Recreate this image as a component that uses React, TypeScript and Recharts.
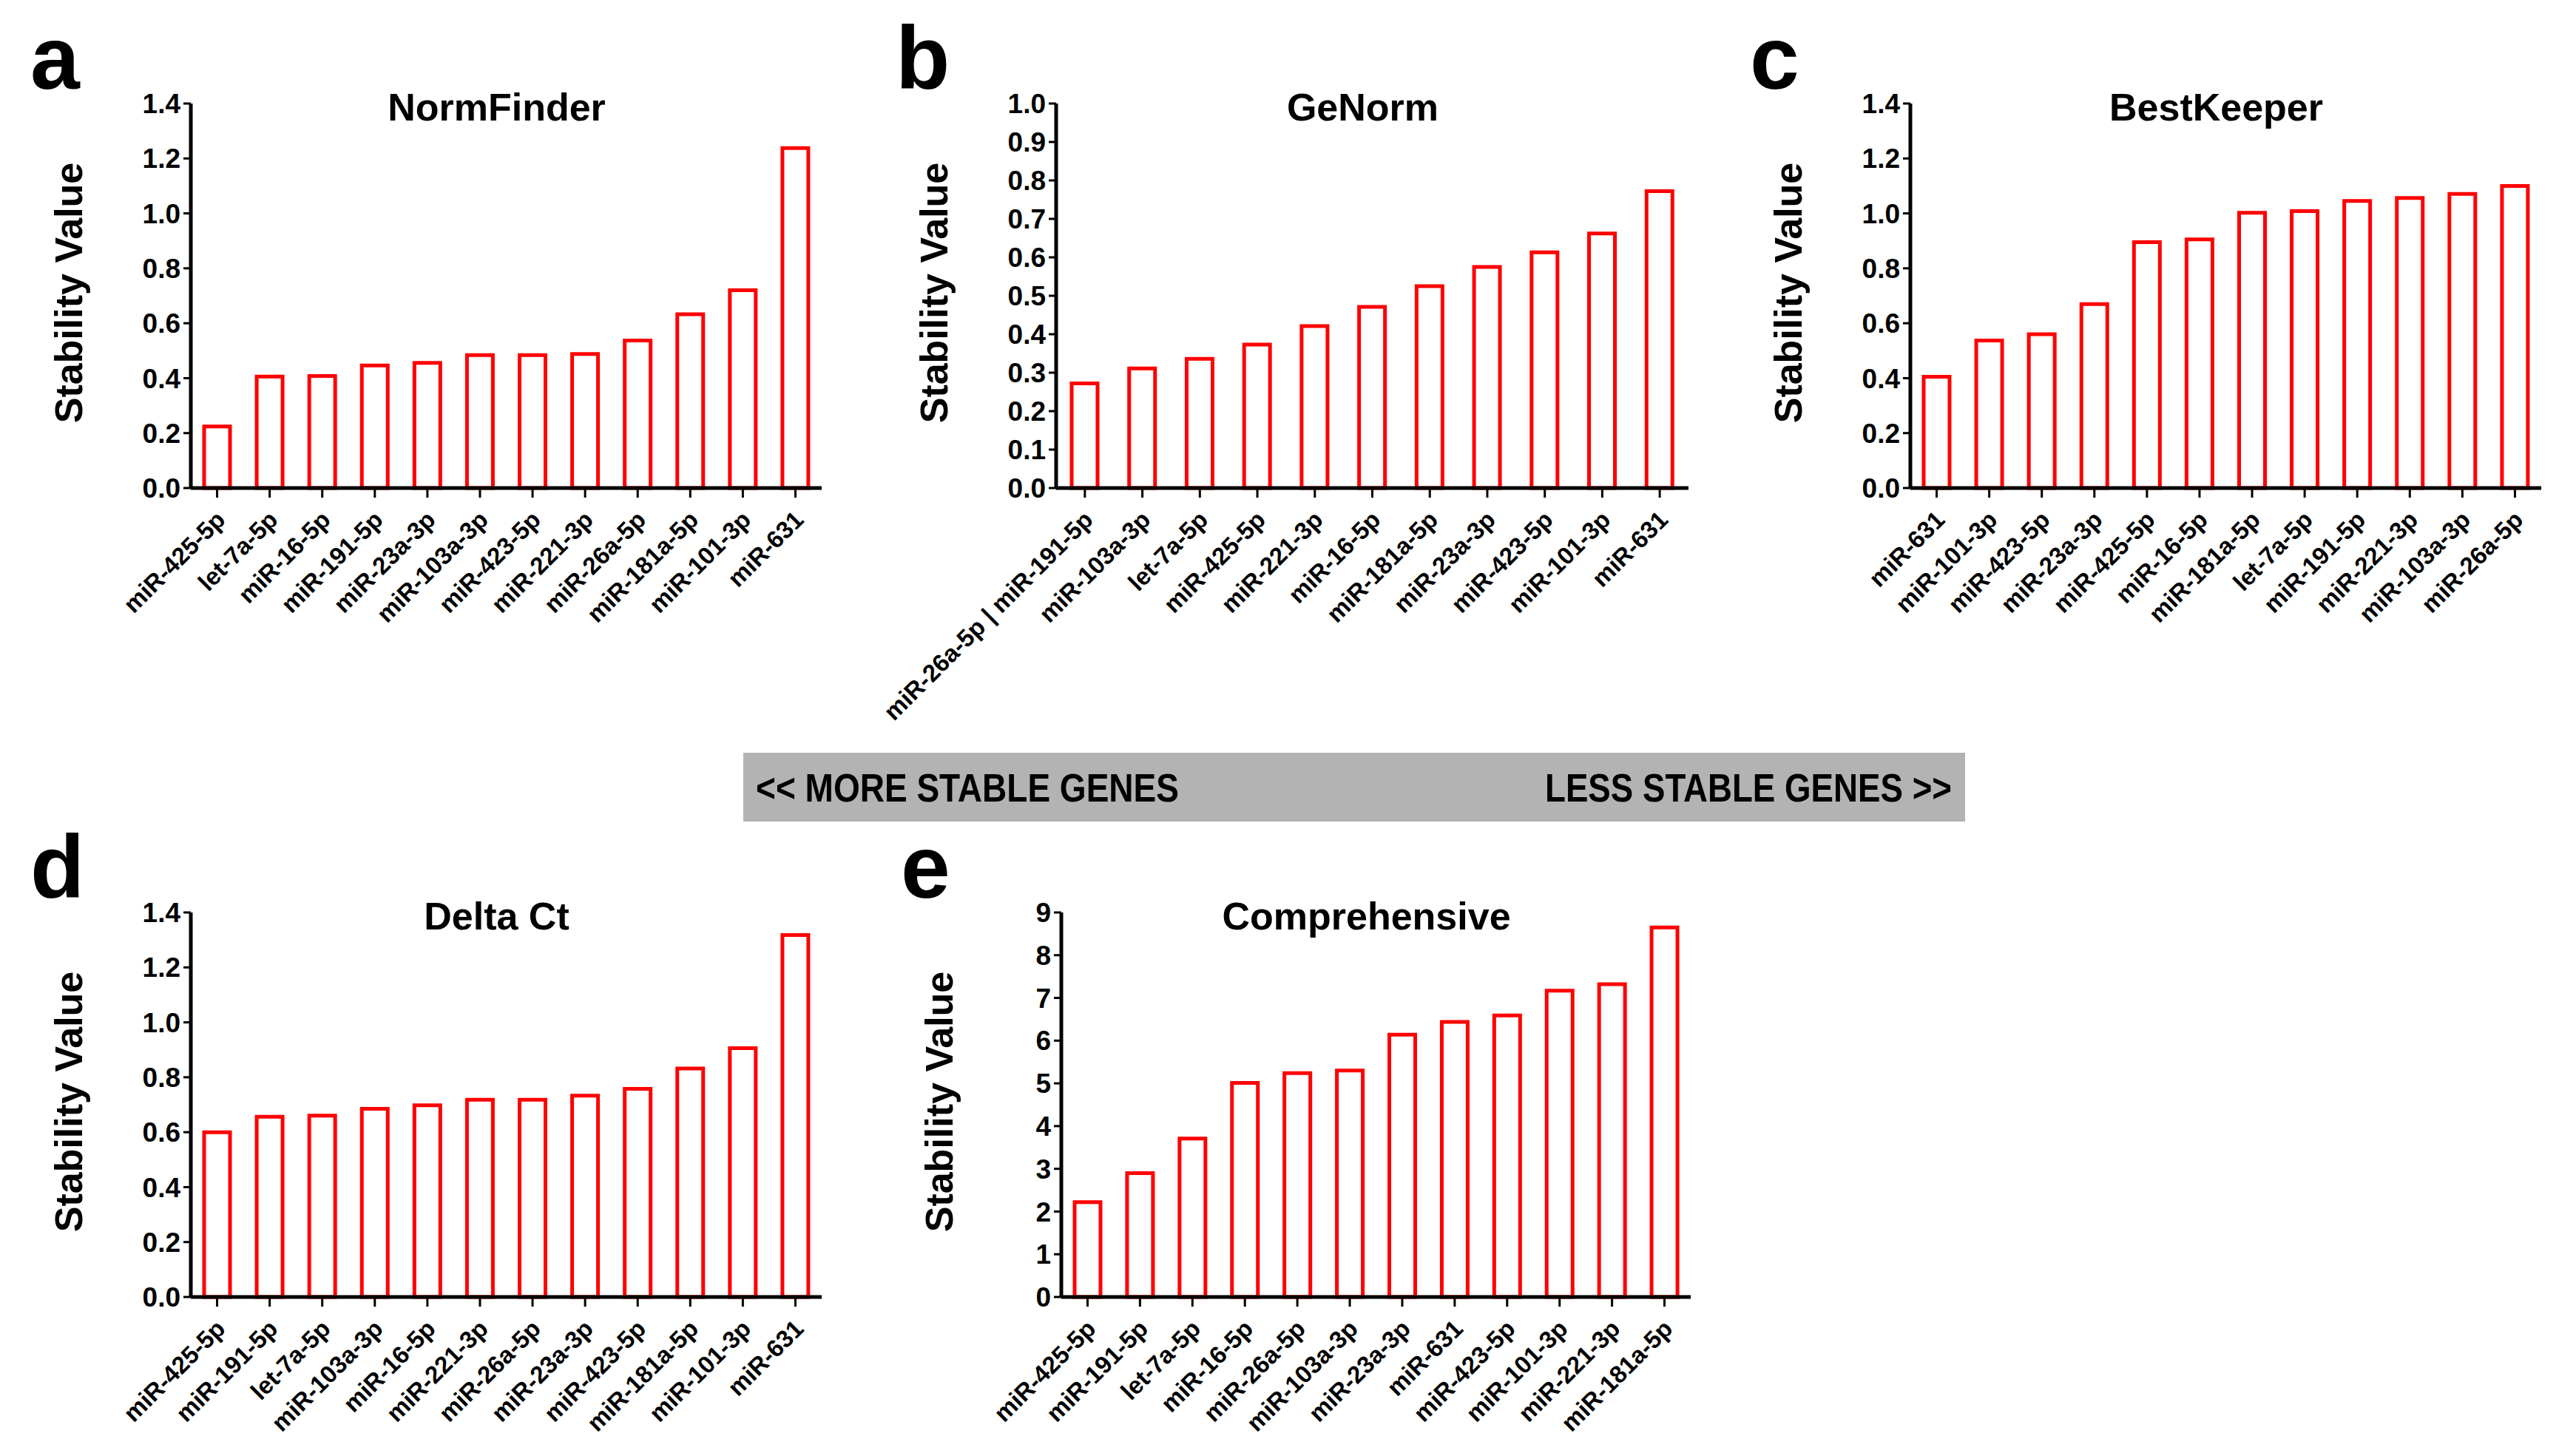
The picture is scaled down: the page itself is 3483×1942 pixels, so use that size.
import React from 'react';
import { BarChart, Bar, XAxis, YAxis } from 'recharts';

const FONT = "'Liberation Sans', Arial, Helvetica, sans-serif";

// panel a
const normFinderGenes = ['miR-425-5p', 'let-7a-5p', 'miR-16-5p', 'miR-191-5p', 'miR-23a-3p', 'miR-103a-3p', 'miR-423-5p', 'miR-221-3p', 'miR-26a-5p', 'miR-181a-5p', 'miR-101-3p', 'miR-631'];
const normFinderValues = [0.224, 0.406, 0.408, 0.446, 0.456, 0.484, 0.484, 0.488, 0.537, 0.633, 0.72, 1.238];

// panel b
const geNormGenes = ['miR-26a-5p | miR-191-5p', 'miR-103a-3p', 'let-7a-5p', 'miR-425-5p', 'miR-221-3p', 'miR-16-5p', 'miR-181a-5p', 'miR-23a-3p', 'miR-423-5p', 'miR-101-3p', 'miR-631'];
const geNormValues = [0.272, 0.311, 0.336, 0.373, 0.421, 0.471, 0.525, 0.575, 0.613, 0.662, 0.772];

// panel c
const bestKeeperGenes = ['miR-631', 'miR-101-3p', 'miR-423-5p', 'miR-23a-3p', 'miR-425-5p', 'miR-16-5p', 'miR-181a-5p', 'let-7a-5p', 'miR-191-5p', 'miR-221-3p', 'miR-103a-3p', 'miR-26a-5p'];
const bestKeeperValues = [0.405, 0.537, 0.56, 0.67, 0.895, 0.905, 1.002, 1.008, 1.045, 1.056, 1.071, 1.1];

// panel d
const deltaCtGenes = ['miR-425-5p', 'miR-191-5p', 'let-7a-5p', 'miR-103a-3p', 'miR-16-5p', 'miR-221-3p', 'miR-26a-5p', 'miR-23a-3p', 'miR-423-5p', 'miR-181a-5p', 'miR-101-3p', 'miR-631'];
const deltaCtValues = [0.6, 0.656, 0.66, 0.685, 0.698, 0.718, 0.718, 0.733, 0.758, 0.832, 0.906, 1.318];

// panel e
const comprehensiveGenes = ['miR-425-5p', 'miR-191-5p', 'let-7a-5p', 'miR-16-5p', 'miR-26a-5p', 'miR-103a-3p', 'miR-23a-3p', 'miR-631', 'miR-423-5p', 'miR-101-3p', 'miR-221-3p', 'miR-181a-5p'];
const comprehensiveValues = [2.22, 2.9, 3.71, 5.01, 5.24, 5.3, 6.14, 6.44, 6.59, 7.17, 7.32, 8.65];

// y ticks
const ticks14 = [0, 0.2, 0.4, 0.6, 0.8, 1.0, 1.2, 1.4];
const ticks10 = [0, 0.1, 0.2, 0.3, 0.4, 0.5, 0.6, 0.7, 0.8, 0.9, 1.0];
const ticks9 = [0, 1, 2, 3, 4, 5, 6, 7, 8, 9];

const AXIS_W = 130;
const PAD_L = 240;
const PAD_T = 30;
const PAD_R = 40;
const XAXIS_H = 380;

const GeneTick = (props: any) => {
  const { x, y, payload } = props;
  const tx = x + 13;
  const ty = y + 32;
  return (
    <text
      x={tx}
      y={ty}
      transform={`rotate(-45, ${tx}, ${ty})`}
      textAnchor="end"
      fontSize={33}
      fontWeight="bold"
      fontFamily={FONT}
      fill="#000"
    >
      {payload.value}
    </text>
  );
};

type PanelProps = {
  genes: string[];
  values: number[];
  ticks: number[];
  digits: number;
  x0: number;
  x1: number;
  y0: number;
  y1: number;
};

function Panel({ genes, values, ticks, digits, x0, x1, y0, y1 }: PanelProps) {
  const data = genes.map((g, i) => ({ gene: g, value: values[i] }));
  const width = PAD_L + AXIS_W + (x1 - x0) + PAD_R;
  const height = PAD_T + (y1 - y0) + XAXIS_H;
  return (
    <div style={{ position: 'absolute', left: x0 - AXIS_W - PAD_L, top: y0 - PAD_T }}>
      <BarChart
        width={width}
        height={height}
        data={data}
        margin={{ top: PAD_T, right: PAD_R, bottom: 0, left: PAD_L }}
      >
        <XAxis
          dataKey="gene"
          interval={0}
          height={XAXIS_H}
          tick={<GeneTick />}
          tickSize={13}
          tickMargin={0}
          axisLine={{ stroke: '#000', strokeWidth: 5 }}
          tickLine={{ stroke: '#000', strokeWidth: 3 }}
        />
        <YAxis
          width={AXIS_W}
          domain={[ticks[0], ticks[ticks.length - 1]]}
          ticks={ticks}
          interval={0}
          tickFormatter={(v: number) => v.toFixed(digits)}
          tickSize={10}
          tickMargin={4}
          axisLine={{ stroke: '#000', strokeWidth: 5 }}
          tickLine={{ stroke: '#000', strokeWidth: 3 }}
          tick={{ fill: '#000', fontSize: 37, fontWeight: 'bold', fontFamily: FONT }}
        />
        <Bar
          dataKey="value"
          fill="#ffffff"
          stroke="#ff0000"
          strokeWidth={5}
          barSize={35}
          isAnimationActive={false}
        />
      </BarChart>
    </div>
  );
}

const panels = [
  { letter: 'a', title: 'NormFinder', genes: normFinderGenes, values: normFinderValues, ticks: ticks14, digits: 1, x0: 258, x1: 1111, y0: 140, y1: 660 },
  { letter: 'b', title: 'GeNorm', genes: geNormGenes, values: geNormValues, ticks: ticks10, digits: 1, x0: 1428, x1: 2283, y0: 140, y1: 660 },
  { letter: 'c', title: 'BestKeeper', genes: bestKeeperGenes, values: bestKeeperValues, ticks: ticks14, digits: 1, x0: 2583, x1: 3436, y0: 140, y1: 660 },
  { letter: 'd', title: 'Delta Ct', genes: deltaCtGenes, values: deltaCtValues, ticks: ticks14, digits: 1, x0: 258, x1: 1111, y0: 1234, y1: 1754 },
  { letter: 'e', title: 'Comprehensive', genes: comprehensiveGenes, values: comprehensiveValues, ticks: ticks9, digits: 0, x0: 1435, x1: 2286, y0: 1234, y1: 1754 },
];

export default function App() {
  return (
    <div
      style={{
        position: 'absolute',
        left: 0,
        top: 0,
        width: 3483,
        height: 1942,
        overflow: 'hidden',
        background: '#fff',
        fontFamily: FONT,
      }}
    >
      <svg width={3483} height={1942} style={{ position: 'absolute', left: 0, top: 0 }}>
        <rect x={1005} y={1018} width={1652} height={93} fill="#b3b3b3" />
        <text x={1022} y={1084} fontSize={54} fontWeight="bold" fontFamily={FONT} fill="#000" textLength={572} lengthAdjust="spacingAndGlyphs">
          {'<< MORE STABLE GENES'}
        </text>
        <text x={2089} y={1084} fontSize={54} fontWeight="bold" fontFamily={FONT} fill="#000" textLength={550} lengthAdjust="spacingAndGlyphs">
          {'LESS STABLE GENES >>'}
        </text>
        {panels.map((p) => {
          const cy = (p.y0 + p.y1) / 2 - 4;
          const lx = p.x0 - 147;
          return (
            <g key={p.letter} fontFamily={FONT} fontWeight="bold" fill="#000">
              <text x={p.x0 - 217} y={p.y0 - 20} fontSize={120}>{p.letter}</text>
              <text x={(p.x0 + p.x1) / 2 - 13} y={p.y0 + 23} fontSize={52} textAnchor="middle">{p.title}</text>
              <text x={lx} y={cy} fontSize={52} textAnchor="middle" transform={`rotate(-90, ${lx}, ${cy})`}>
                Stability Value
              </text>
            </g>
          );
        })}
      </svg>
      {panels.map((p) => (
        <Panel key={p.letter} genes={p.genes} values={p.values} ticks={p.ticks} digits={p.digits} x0={p.x0} x1={p.x1} y0={p.y0} y1={p.y1} />
      ))}
    </div>
  );
}
